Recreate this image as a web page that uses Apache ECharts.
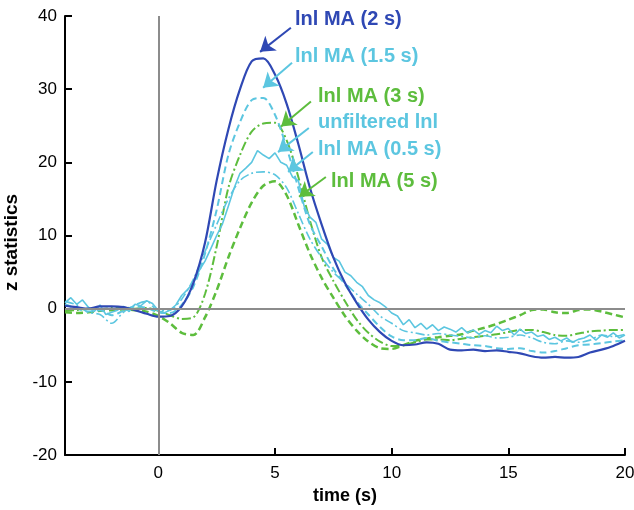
<!DOCTYPE html>
<html>
<head>
<meta charset="utf-8">
<script src="https://cdn.jsdelivr.net/npm/echarts@6/dist/echarts.min.js"></script>
<style>
  html, body { margin: 0; padding: 0; background: #fff; }
  #chart { width: 634px; height: 510px; }
</style>
</head>
<body>
<div id="chart"></div>
<script>
// time grid (s) for the smoothed curves
const timeMA = [-4, -3.5, -3, -2.5, -2, -1.5, -1, -0.5, 0, 0.5, 1, 1.5, 2, 2.5, 3, 3.5, 4, 4.5, 5, 5.5,
  6, 6.5, 7, 7.5, 8, 8.5, 9, 9.5, 10, 10.5, 11, 11.5, 12, 12.5, 13, 13.5, 14, 14.5, 15, 15.5,
  16, 16.5, 17, 17.5, 18, 18.5, 19, 19.5, 20];

// time grid (s) for the unfiltered curve
const timeRaw = [-4, -3.75, -3.5, -3.25, -3, -2.75, -2.5, -2.25, -2, -1.75, -1.5, -1.25, -1, -0.75, -0.5, -0.25,
  0, 0.25, 0.5, 0.75, 1, 1.25, 1.5, 1.75, 2, 2.25, 2.5, 2.75, 3, 3.25, 3.5, 3.75,
  4, 4.25, 4.5, 4.75, 5, 5.25, 5.5, 5.75, 6, 6.25, 6.5, 6.75, 7, 7.25, 7.5, 7.75,
  8, 8.25, 8.5, 8.75, 9, 9.25, 9.5, 9.75, 10, 10.25, 10.5, 10.75, 11, 11.25, 11.5, 11.75,
  12, 12.25, 12.5, 12.75, 13, 13.25, 13.5, 13.75, 14, 14.25, 14.5, 14.75, 15, 15.25, 15.5, 15.75,
  16, 16.25, 16.5, 16.75, 17, 17.25, 17.5, 17.75, 18, 18.25, 18.5, 18.75, 19, 19.25, 19.5, 19.75, 20];

const ma2 = [0.4, 0.2, 0.0, 0.3, 0.3, 0.2, -0.2, -0.7, -1.1, -1.0, 0.3, 3.5, 9.0, 17.5, 24.5, 30.0, 33.8, 34.2, 32.0, 28.0,
  22.5, 16.5, 11.5, 7.0, 3.5, 0.8, -1.5, -3.2, -4.4, -5.0, -4.9, -4.6, -4.8, -5.6, -5.7, -5.6, -5.8, -5.7, -5.9, -6.1,
  -6.5, -6.7, -6.6, -6.7, -6.6, -6.0, -5.6, -5.1, -4.4];

const ma15 = [0.6, 0.0, -0.4, -0.2, -0.9, -0.3, 0.3, 0.1, -0.5, -0.6, 0.5, 3.0, 7.5, 13.5, 21.0, 25.5, 28.5, 28.8, 26.5, 22.0,
  16.5, 11.5, 8.5, 5.5, 3.3, 1.0, -0.8, -2.5, -3.8, -4.3, -4.3, -4.0, -4.4, -4.6, -4.8, -5.0, -5.1, -5.4, -5.5, -5.4,
  -5.8, -6.0, -5.8, -5.4, -5.0, -4.9, -4.7, -4.5, -4.3];

const ma3 = [-0.3, -0.2, 0.0, -0.1, 0.1, 0.2, 0.0, 0.1, -0.3, -0.9, -1.4, -1.2, 2.0, 8.5, 16.5, 21.0, 24.2, 25.3, 25.4, 23.0,
  18.0, 12.0, 7.0, 3.8, 1.0, -1.5, -3.3, -4.5, -5.1, -5.0, -4.6, -4.2, -4.2, -4.3, -4.1, -3.9, -3.7, -3.5, -3.2, -2.9,
  -2.9, -3.2, -3.6, -3.7, -3.4, -3.1, -3.0, -2.9, -2.9];

const ma05 = [1.0, 0.5, -0.5, -0.8, -2.0, -0.5, 0.5, 1.0, -0.3, -0.2, 1.3, 4.0, 7.8, 11.5, 15.0, 17.5, 18.5, 18.7, 18.3, 16.5,
  13.0, 9.5, 7.0, 5.0, 3.5, 2.0, 0.6, -1.0, -2.0, -3.0, -3.3, -3.6, -3.4, -3.6, -3.8, -4.0, -3.7, -4.0, -3.9, -3.6,
  -4.0, -4.6, -4.8, -4.4, -4.6, -4.3, -3.6, -3.8, -3.5];

const ma5 = [-0.5, -0.6, -0.5, -0.3, -0.2, -0.1, -0.2, -0.4, -1.0, -2.0, -3.3, -3.6, -1.2, 2.5, 7.0, 11.0, 14.5, 16.8, 17.4, 15.5,
  11.5, 7.5, 4.2, 1.5, -1.0, -3.0, -4.5, -5.4, -5.5, -5.0, -4.4, -4.1, -3.9, -3.7, -3.5, -3.0, -2.6, -2.1, -1.5, -0.9,
  -0.2, -0.1, -0.5, -0.6, -0.2, -0.1, -0.4, -0.8, -1.2];

const unfiltered = [0.8, 1.5, 0.6, 1.2, 0.2, -0.4, 0.5, -0.8, -0.5, -0.2, 0.3, -0.4, 0.6, 0.4, 1.1, 0.7,
  -0.3, -0.6, -0.2, 0.5, 1.8, 2.6, 3.5, 5.2, 6.5, 8.2, 10.0, 11.6, 14.0, 16.5, 18.5, 19.2,
  20.0, 21.6, 21.0, 20.5, 21.3, 20.0, 19.6, 18.0, 17.5, 14.0, 12.5, 11.8, 9.5, 8.8, 7.0, 6.5,
  5.0, 4.5, 3.6, 3.0, 1.8, 1.2, 0.8, 0.2, -0.6, -1.0, -2.2, -1.5, -2.6, -2.0, -2.8, -2.2,
  -3.0, -2.5, -2.8, -3.2, -2.6, -3.3, -2.9, -3.5, -3.0, -3.3, -2.4, -3.0, -2.7, -3.6, -2.8, -3.4,
  -3.2, -3.8, -3.6, -4.2, -3.9, -4.4, -4.0, -4.6, -4.2, -4.0, -3.6, -4.3, -3.6, -3.9, -3.3, -4.0, -3.6];

const xTicks = [0, 5, 10, 15, 20];

const BLUE = '#2f48b4';
const CYAN = '#5cc6e0';
const GREEN = '#5dbd3d';
const FONT = '"Liberation Sans", Arial, sans-serif';

// label text, colour, arrow start / end (data coords)
const notes = [
  { text: 'lnl MA (2 s)', color: BLUE, left: 295, top: 21, from: [5.68, 38.4], to: [4.36, 35.1] },
  { text: 'lnl MA (1.5 s)', color: CYAN, left: 295, top: 58, from: [5.73, 33.6], to: [4.49, 30.2] },
  { text: 'lnl MA (3 s)', color: GREEN, left: 318, top: 98, from: [6.54, 28.3], to: [5.26, 24.9] },
  { text: 'unfiltered lnl', color: CYAN, left: 318, top: 124, from: [6.45, 24.7], to: [5.13, 21.4] },
  { text: 'lnl MA (0.5 s)', color: CYAN, left: 318, top: 151, from: [6.62, 21.4], to: [5.56, 18.7] },
  { text: 'lnl MA (5 s)', color: GREEN, left: 331, top: 183, from: [7.18, 18.0], to: [6.03, 15.3] }
];

const pairs = (xs, ys) => xs.map((x, i) => [x, ys[i]]);

function lineSeries(name, xs, ys, color, width, type, smooth) {
  return {
    name: name,
    type: 'line',
    data: pairs(xs, ys),
    showSymbol: false,
    smooth: smooth,
    z: 3,
    lineStyle: { color: color, width: width, type: type }
  };
}

const chart = echarts.init(document.getElementById('chart'));

chart.setOption({
  animation: false,
  backgroundColor: '#fff',
  grid: { left: 65, right: 9, top: 16, bottom: 55, containLabel: false, outerBoundsMode: 'none' },
  xAxis: {
    type: 'value',
    min: -4,
    max: 20,
    name: 'time (s)',
    nameLocation: 'middle',
    nameGap: 31,
    nameTextStyle: { fontFamily: FONT, fontSize: 18, fontWeight: 'bold', color: '#000' },
    axisLine: { onZero: false, lineStyle: { color: '#000', width: 2 } },
    axisTick: { inside: true, length: 7, customValues: xTicks, lineStyle: { color: '#000', width: 2 } },
    axisLabel: { customValues: xTicks, fontFamily: FONT, fontSize: 17, color: '#000', margin: 10 },
    splitLine: { show: false }
  },
  yAxis: {
    type: 'value',
    min: -20,
    max: 40,
    interval: 10,
    name: 'z statistics',
    nameLocation: 'middle',
    nameGap: 29,
    nameTextStyle: { fontFamily: FONT, fontSize: 19, fontWeight: 'bold', color: '#000', padding: [0, 14, 0, 0] },
    axisLine: { onZero: false, lineStyle: { color: '#000', width: 2 } },
    axisTick: { inside: true, length: 7, lineStyle: { color: '#000', width: 2 } },
    axisLabel: { fontFamily: FONT, fontSize: 17, color: '#000', margin: 8 },
    splitLine: { show: false }
  },
  graphic: notes.map(n => ({
    type: 'text',
    left: n.left,
    top: n.top - 12,
    z: 10,
    style: { text: n.text, fill: n.color, font: 'bold 20px ' + FONT }
  })),
  series: [
    {
      // zero reference lines
      type: 'line',
      data: [[0, 0]],
      showSymbol: false,
      lineStyle: { opacity: 0 },
      z: 1,
      markLine: {
        silent: true,
        symbol: 'none',
        label: { show: false },
        lineStyle: { color: '#8c8c8c', width: 2, type: 'solid' },
        data: [{ xAxis: 0 }, { yAxis: 0 }]
      }
    },
    {
      // annotation arrows
      type: 'line',
      data: [],
      z: 5,
      markLine: {
        silent: true,
        symbol: ['none', 'arrow'],
        symbolSize: 14,
        label: { show: false },
        data: notes.map(n => [
          { coord: n.from, lineStyle: { color: n.color, width: 2, type: 'solid' }, itemStyle: { color: n.color } },
          { coord: n.to }
        ])
      }
    },
    lineSeries('lnl MA (5 s)', timeMA, ma5, GREEN, 2.5, [7, 4], 0.3),
    lineSeries('lnl MA (3 s)', timeMA, ma3, GREEN, 2, [9, 3, 2, 3], 0.3),
    lineSeries('lnl MA (0.5 s)', timeMA, ma05, CYAN, 1.6, [9, 3, 2, 3], 0.3),
    lineSeries('unfiltered lnl', timeRaw, unfiltered, CYAN, 1.6, 'solid', false),
    lineSeries('lnl MA (1.5 s)', timeMA, ma15, CYAN, 2, [7, 4], 0.3),
    lineSeries('lnl MA (2 s)', timeMA, ma2, BLUE, 2.2, 'solid', 0.3)
  ]
});
</script>
</body>
</html>
